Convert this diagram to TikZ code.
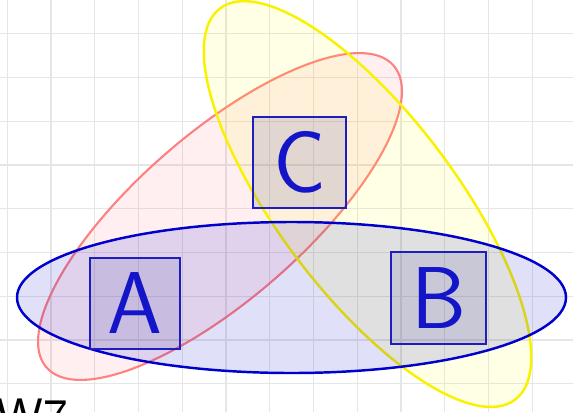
\documentclass[tikz,border=0pt]{standalone}
\usepackage{fontspec}
\usetikzlibrary{calc}
\definecolor{gridgray}{RGB}{230,230,230}
\definecolor{setred}{RGB}{255,128,128}
\definecolor{redfill}{RGB}{255,100,120}
\definecolor{setyellow}{RGB}{248,242,0}
\definecolor{yellowfill}{RGB}{255,255,0}
\definecolor{setblue}{RGB}{0,0,204}
\definecolor{bluefill}{RGB}{0,0,200}
\definecolor{boxblue}{RGB}{30,30,190}
\definecolor{boxfill}{RGB}{90,90,170}
\definecolor{inkblue}{RGB}{20,20,200}

\begin{document}
\begin{tikzpicture}[x = 0.02cm, y = -0.02cm,
        gridline/.style = {draw = gridgray, line width = 0.75pt},
        setline/.style = {line width = 1.4pt},
        box/.style = {draw = boxblue, line width = 1.2pt, fill = boxfill, fill opacity = 0.18,
            text opacity = 1, inner sep = 0pt, text = inkblue,
            font = \sffamily\fontsize{50}{50}\selectfont},
        scrap/.style = {inner sep = 0pt, text = black, font = \sffamily\fontsize{30}{30}\selectfont}]
        \useasboundingbox (0,0) rectangle (573,412);
        \clip (0,0) rectangle (573,412);
        % grid
        \foreach \i in {0,...,12}
            \path[gridline] (7.3+43.75*\i,0) -- (7.3+43.75*\i,412);
        \foreach \j in {1,...,9}
            \path[gridline] (0,-10+43.75*\j) -- (573,-10+43.75*\j);
        % centres
        \coordinate (Rc) at (220,216.5);
        \coordinate (Yc) at (367.5,204);
        \coordinate (Bc) at (291.5,297.5);
        % red set
        \path[draw = setred, fill = redfill, fill opacity = 0.1, line width = 1.2pt,
            rotate around = {41:(Rc)}] (Rc) ellipse [x radius = 230, y radius = 83];
        % yellow set
        \path[draw = setyellow, fill = yellowfill, fill opacity = 0.1, setline,
            rotate around = {-53:(Yc)}] (Yc) ellipse [x radius = 245, y radius = 89];
        % blue set
        \path[draw = setblue, fill = bluefill, fill opacity = 0.12, setline]
            (Bc) ellipse [x radius = 274.5, y radius = 75.5];
        % boxes
        \node[box, minimum width = 1.8cm, minimum height = 1.82cm] (A) at (135,303.5) {A};
        \node[box, minimum width = 1.9cm, minimum height = 1.84cm] (B) at (438.5,298) {B};
        \node[box, minimum width = 1.86cm, minimum height = 1.82cm] (C) at (299.5,162.5) {C};
        % cut off at the bottom
        \node[scrap, anchor = north west] (W) at (-4,399) {W7};
    \end{tikzpicture}
\end{document}
